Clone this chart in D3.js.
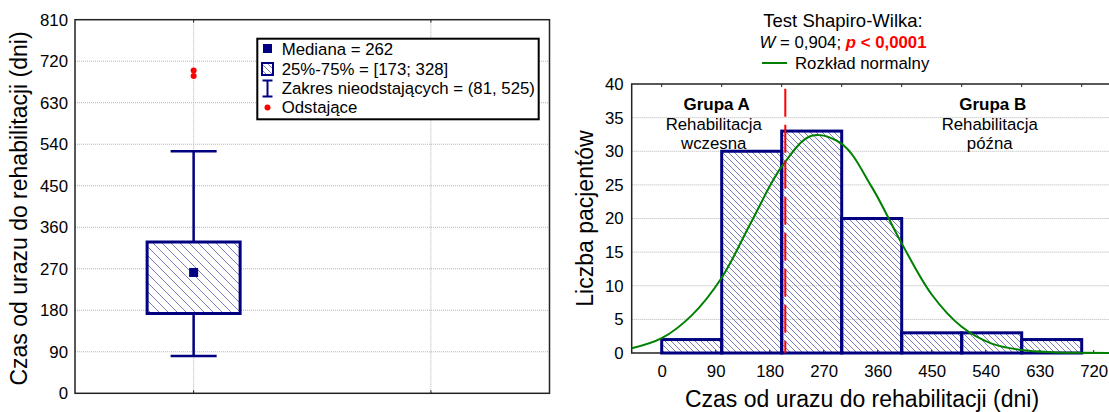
<!DOCTYPE html>
<html>
<head>
<meta charset="utf-8">
<script src="https://cdn.jsdelivr.net/npm/d3@7"></script>
<style>
  body { margin: 0; background: #fff; }
  text { font-family: 'Liberation Sans', Arial, sans-serif; fill: #000; }
</style>
</head>
<body>
<div id="viz-container"></div>
<script>
// Dane - wykres pudełkowy
const boxTicks = [0, 90, 180, 270, 360, 450, 540, 630, 720, 810];
const median = 262;
const quartiles = [173, 328];
const whiskers = [81, 525];
const outliers = [700, 688];
const legendLabels = ['Mediana = 262', '25%-75% = [173; 328]', 'Zakres nieodstających = (81, 525)', 'Odstające'];

// Dane - histogram
const binStarts = [0, 100, 200, 300, 400, 500, 600];
const binWidth = 100;
const counts = [2, 30, 33, 20, 3, 3, 2];
const histXTicks = [0, 90, 180, 270, 360, 450, 540, 630, 720];
const histYTicks = [0, 5, 10, 15, 20, 25, 30, 35, 40];
const topTicks = [0, 100, 200, 300, 400, 500, 600, 700];
const normalX = [-50, 0, 50, 100, 150, 200, 250, 300, 350, 400, 450, 500, 550, 600, 650, 700, 750, 800];
const normalY = [0.7, 2.2, 5.6, 11.2, 19.6, 27.7, 32.3, 31.1, 24.7, 16.3, 8.7, 3.9, 1.4, 0.45, 0.12, 0.03, 0, 0];
const cutoff = 206;

const W = 1109, H = 412;
const navy = '#000080';
const gridColor = '#b4b4b4';

const svg = d3.select('#viz-container').append('svg')
  .attr('width', W).attr('height', H)
  .style('background', '#fff');

// Wzory kreskowania
const defs = svg.append('defs');
const hatch = (id, s) => {
  defs.append('pattern')
    .attr('id', id).attr('patternUnits', 'userSpaceOnUse')
    .attr('width', s).attr('height', s)
    .append('path')
    .attr('d', `M0,0 L${s},${s} M${-s / 2},${s / 2} L${s / 2},${1.5 * s} M${s / 2},${-s / 2} L${1.5 * s},${s / 2}`)
    .attr('stroke', '#5a5ab0').attr('stroke-width', 0.8);
};
hatch('hatchBox', 9);
hatch('hatchBar', 6);
hatch('hatchLeg', 6);

// ===== LEWY PANEL: wykres pudełkowy =====
const xL = d3.scaleLinear().domain([0.5, 2.5]).range([75, 549.5]);
const yL = d3.scaleLinear().domain([0, 810]).range([393.3, 19.7]);
const left = svg.append('g');

// siatka
left.selectAll('.hgrid').data(boxTicks.slice(1, -1)).enter().append('line')
  .attr('x1', xL(0.5)).attr('x2', xL(2.5))
  .attr('y1', d => yL(d)).attr('y2', d => yL(d))
  .attr('stroke', gridColor).attr('stroke-dasharray', '1,1');
left.selectAll('.vgrid').data([1, 2]).enter().append('line')
  .attr('x1', d => xL(d)).attr('x2', d => xL(d))
  .attr('y1', yL(0)).attr('y2', yL(810))
  .attr('stroke', gridColor).attr('stroke-dasharray', '1,1');

// oś Y
const axL = left.append('g')
  .attr('transform', `translate(${xL(0.5)},0)`)
  .call(d3.axisLeft(yL).tickValues(boxTicks).tickSize(0).tickPadding(7));
axL.select('.domain').remove();
axL.selectAll('text').attr('font-size', '16.8px').attr('font-family', "'Liberation Sans', Arial, sans-serif").attr('fill', '#000');

left.append('rect')
  .attr('x', xL(0.5)).attr('y', yL(810))
  .attr('width', xL(2.5) - xL(0.5)).attr('height', yL(0) - yL(810))
  .attr('fill', 'none').attr('stroke', '#222').attr('stroke-width', 1.5);
[1, 2].forEach(p => {
  left.append('line').attr('x1', xL(p)).attr('x2', xL(p)).attr('y1', yL(810)).attr('y2', yL(810) + 3).attr('stroke', '#222');
  left.append('line').attr('x1', xL(p)).attr('x2', xL(p)).attr('y1', yL(0)).attr('y2', yL(0) - 3).attr('stroke', '#222');
});

// wąsy
const cx = xL(1);
const capHalf = xL(1.097) - cx;
const boxHalf = xL(1.196) - cx;
left.append('line').attr('x1', cx).attr('x2', cx).attr('y1', yL(whiskers[0])).attr('y2', yL(whiskers[1]))
  .attr('stroke', navy).attr('stroke-width', 2.5);
whiskers.forEach(w => {
  left.append('line').attr('x1', cx - capHalf).attr('x2', cx + capHalf)
    .attr('y1', yL(w)).attr('y2', yL(w)).attr('stroke', navy).attr('stroke-width', 2.5);
});
// pudełko
left.append('rect').attr('x', cx - boxHalf).attr('y', yL(quartiles[1]))
  .attr('width', 2 * boxHalf).attr('height', yL(quartiles[0]) - yL(quartiles[1]))
  .attr('fill', '#fff').attr('stroke', 'none');
left.append('rect').attr('x', cx - boxHalf).attr('y', yL(quartiles[1]))
  .attr('width', 2 * boxHalf).attr('height', yL(quartiles[0]) - yL(quartiles[1]))
  .attr('fill', 'url(#hatchBox)').attr('stroke', navy).attr('stroke-width', 3);
left.append('rect').attr('x', cx - 4.5).attr('y', yL(median) - 4.5)
  .attr('width', 9).attr('height', 9).attr('fill', navy);
// odstające
left.selectAll('.out').data(outliers).enter().append('circle')
  .attr('cx', cx).attr('cy', d => yL(d)).attr('r', 3).attr('fill', '#ff0000');

// tytuł osi Y
left.append('text')
  .attr('transform', `translate(27,${(yL(0) + yL(810)) / 2 + 2}) rotate(-90)`)
  .attr('text-anchor', 'middle').attr('font-size', '23px')
  .text('Czas od urazu do rehabilitacji (dni)');

// legenda
const leg = left.append('g');
leg.append('rect').attr('x', 257.3).attr('y', 38.7).attr('width', 281.4).attr('height', 80.6)
  .attr('fill', '#fff').attr('stroke', '#000').attr('stroke-width', 2);
const legY = [49.5, 69, 88.5, 107.5];
leg.selectAll('.lt').data(legendLabels).enter().append('text')
  .attr('x', 281.7).attr('y', (d, i) => legY[i]).attr('dy', '0.35em')
  .attr('font-size', '16.8px').text(d => d);
const ix = 267.5;
leg.append('rect').attr('x', ix - 4.5).attr('y', legY[0] - 5.5).attr('width', 9).attr('height', 9).attr('fill', navy);
leg.append('rect').attr('x', ix - 5.5).attr('y', legY[1] - 6).attr('width', 11).attr('height', 12)
  .attr('fill', 'url(#hatchLeg)').attr('stroke', navy).attr('stroke-width', 2);
leg.append('line').attr('x1', ix).attr('x2', ix).attr('y1', legY[2] - 8).attr('y2', legY[2] + 8).attr('stroke', navy).attr('stroke-width', 2);
[-8, 8].forEach(o => leg.append('line').attr('x1', ix - 5).attr('x2', ix + 5)
  .attr('y1', legY[2] + o).attr('y2', legY[2] + o).attr('stroke', navy).attr('stroke-width', 2));
leg.append('circle').attr('cx', ix).attr('cy', legY[3]).attr('r', 3).attr('fill', '#ff0000');

// ===== PRAWY PANEL: histogram =====
const xR = d3.scaleLinear().domain([-50, 800]).range([631.7, 1141.7]);
const yR = d3.scaleLinear().domain([0, 40]).range([353, 84]);
const right = svg.append('g');

right.selectAll('.hg').data(histYTicks.slice(1, -1)).enter().append('line')
  .attr('x1', xR(-50)).attr('x2', xR(800))
  .attr('y1', d => yR(d)).attr('y2', d => yR(d))
  .attr('stroke', gridColor).attr('stroke-dasharray', '1,1');

const axRY = right.append('g')
  .attr('transform', `translate(${xR(-50)},0)`)
  .call(d3.axisLeft(yR).tickValues(histYTicks).tickSize(0).tickPadding(8));
axRY.select('.domain').remove();
const axRX = right.append('g')
  .attr('transform', `translate(0,${yR(0)})`)
  .call(d3.axisBottom(xR).tickValues(histXTicks).tickSize(0).tickPadding(12));
axRX.select('.domain').remove();
right.selectAll('.tick text').attr('font-size', '16.8px').attr('font-family', "'Liberation Sans', Arial, sans-serif").attr('fill', '#000');

// ramka
right.append('path')
  .attr('d', `M${xR(800)},${yR(40)} L${xR(-50)},${yR(40)} L${xR(-50)},${yR(0)} L${xR(800)},${yR(0)}`)
  .attr('fill', 'none').attr('stroke', '#222').attr('stroke-width', 1.5);
right.selectAll('.tt').data(topTicks).enter().append('line')
  .attr('x1', d => xR(d)).attr('x2', d => xR(d)).attr('y1', yR(40)).attr('y2', yR(40) + 3)
  .attr('stroke', '#222');
right.selectAll('.bt').data(histXTicks).enter().append('line')
  .attr('x1', d => xR(d)).attr('x2', d => xR(d)).attr('y1', yR(0)).attr('y2', yR(0) - 3)
  .attr('stroke', '#222');

// słupki
right.selectAll('.bar').data(counts).enter().append('rect')
  .attr('x', (d, i) => xR(binStarts[i]))
  .attr('y', d => yR(d))
  .attr('width', (d, i) => xR(binStarts[i] + binWidth) - xR(binStarts[i]))
  .attr('height', d => yR(0) - yR(d))
  .attr('fill', 'url(#hatchBar)').attr('stroke', navy).attr('stroke-width', 3);

// krzywa normalna
const curve = d3.line()
  .x((d, i) => xR(normalX[i])).y(d => yR(d))
  .curve(d3.curveCatmullRom);
right.append('path').attr('d', curve(normalY))
  .attr('fill', 'none').attr('stroke', '#008000').attr('stroke-width', 2);

// linia podziału
right.append('line').attr('x1', xR(cutoff)).attr('x2', xR(cutoff))
  .attr('y1', yR(39.3)).attr('y2', yR(0))
  .attr('stroke', '#ff0000').attr('stroke-width', 2).attr('stroke-dasharray', '28,8');

// opisy grup
const grp = [
  { x: 90, lines: ['Grupa A', 'Rehabilitacja', 'wczesna'] },
  { x: 550, lines: ['Grupa B', 'Rehabilitacja', 'późna'] }
];
const grpY = [104, 124, 143];
grp.forEach(g => {
  g.lines.forEach((t, i) => {
    right.append('text').attr('x', xR(g.x) + (i === 0 ? 1 : -2)).attr('y', grpY[i]).attr('dy', '0.35em')
      .attr('text-anchor', 'middle').attr('font-size', i === 0 ? '17px' : '16.8px')
      .attr('font-weight', i === 0 ? 'bold' : 'normal').text(t);
  });
});

// tytuły osi
right.append('text')
  .attr('transform', `translate(593,${(yR(0) + yR(40)) / 2}) rotate(-90)`)
  .attr('text-anchor', 'middle').attr('font-size', '23px').text('Liczba pacjentów');
right.append('text').attr('x', 862).attr('y', 407).attr('text-anchor', 'middle')
  .attr('font-size', '23px').text('Czas od urazu do rehabilitacji (dni)');

// nagłówek
right.append('text').attr('x', 843).attr('y', 21).attr('dy', '0.35em')
  .attr('text-anchor', 'middle').attr('font-size', '18.5px').text('Test Shapiro-Wilka:');
const l2 = right.append('text').attr('x', 843).attr('y', 42).attr('dy', '0.35em')
  .attr('text-anchor', 'middle').attr('font-size', '16.8px');
l2.append('tspan').attr('font-style', 'italic').text('W');
l2.append('tspan').text(' = 0,904; ');
l2.append('tspan').attr('font-style', 'italic').attr('font-weight', 'bold').attr('fill', '#ff0000').text('p');
l2.append('tspan').attr('font-weight', 'bold').attr('fill', '#ff0000').text(' < 0,0001');
right.append('line').attr('x1', 762).attr('x2', 787).attr('y1', 63).attr('y2', 63)
  .attr('stroke', '#008000').attr('stroke-width', 2);
right.append('text').attr('x', 795).attr('y', 63).attr('dy', '0.35em')
  .attr('font-size', '16.8px').text('Rozkład normalny');
</script>
</body>
</html>
